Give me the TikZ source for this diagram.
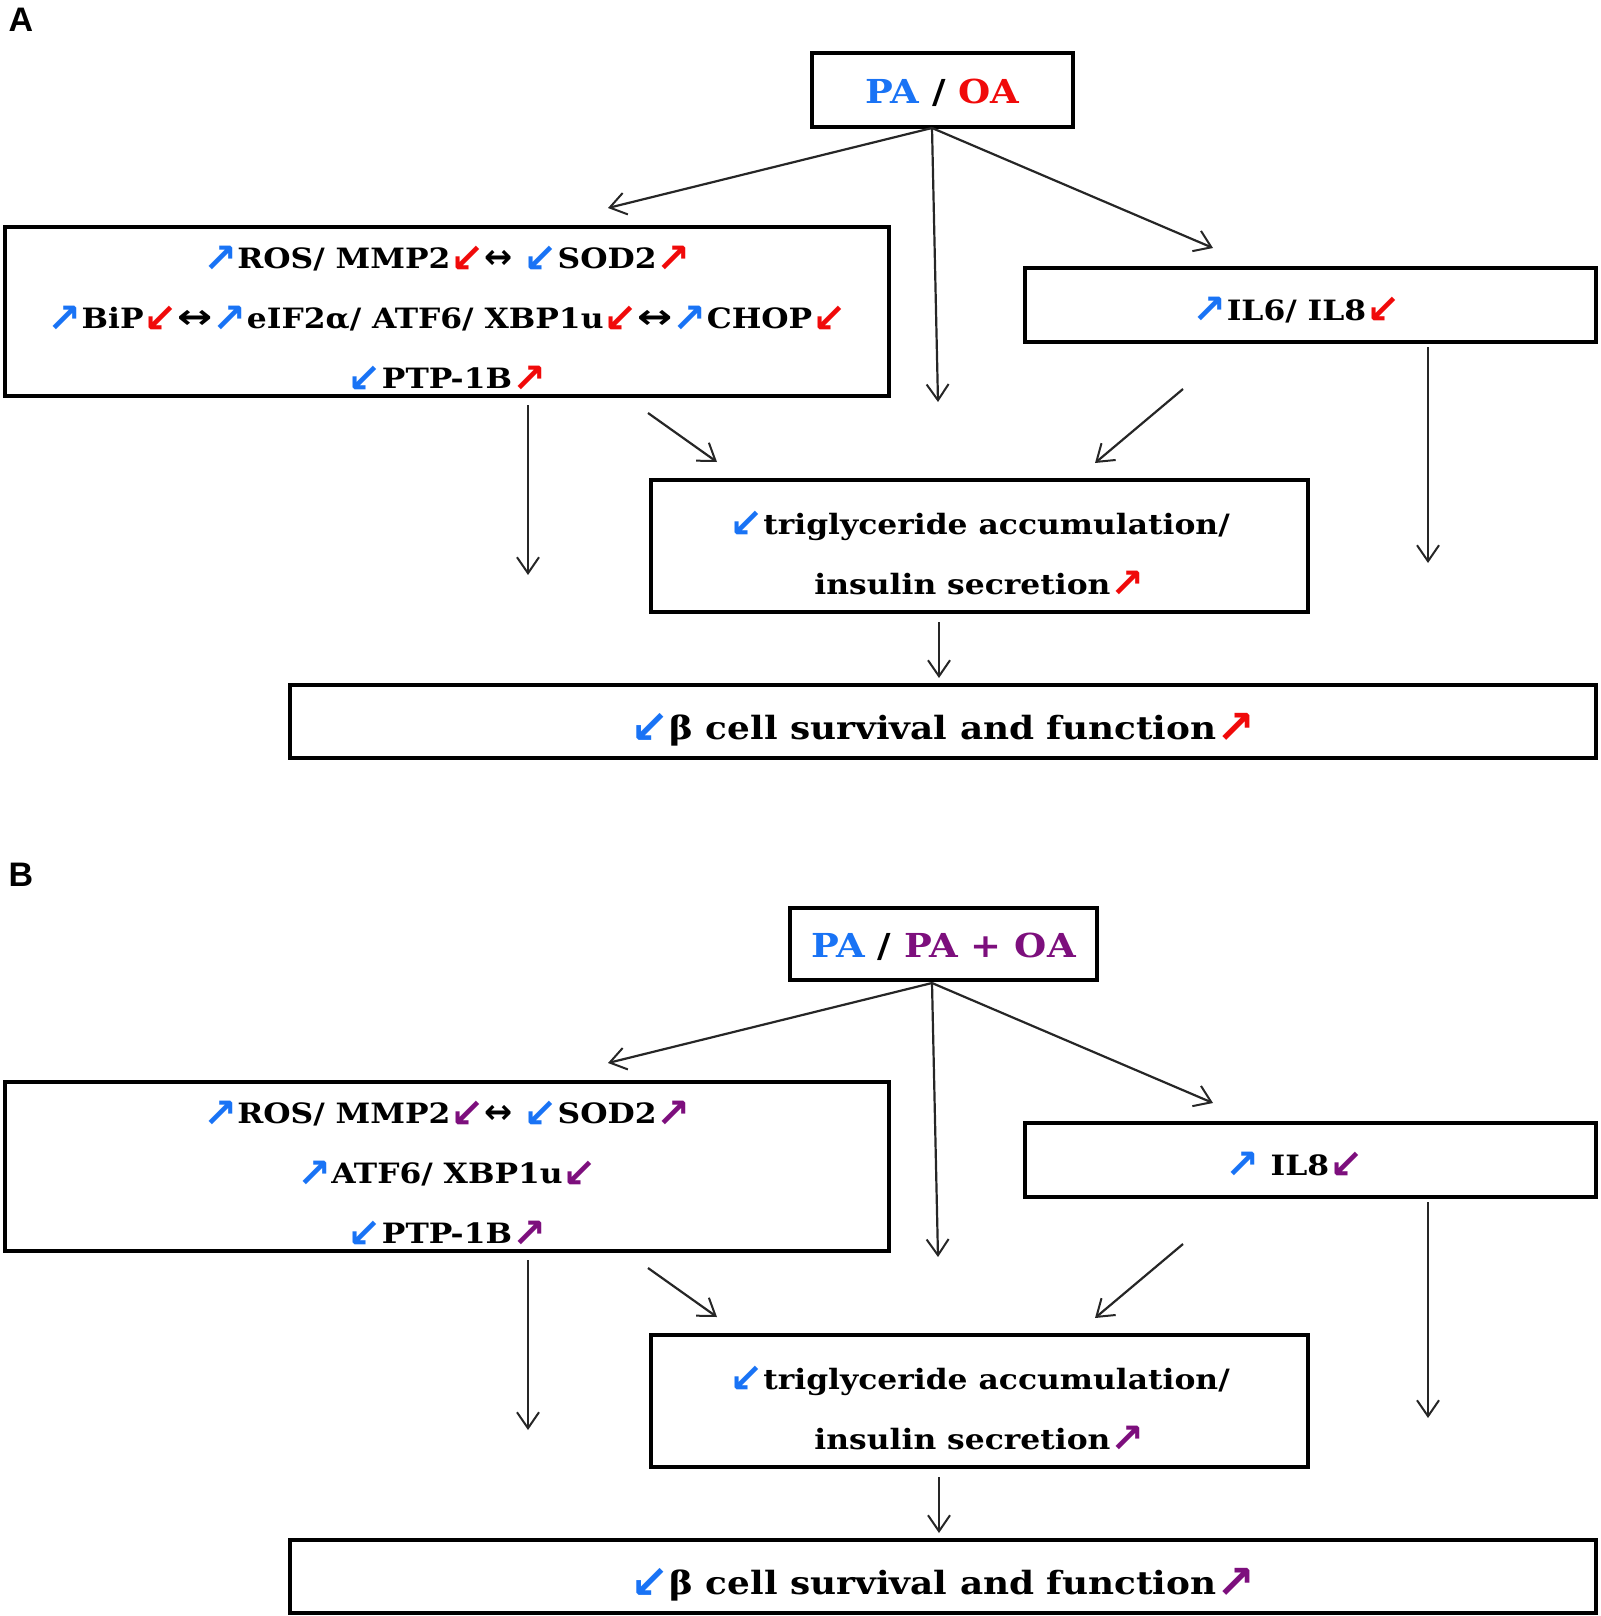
\documentclass[tikz,border=0pt]{standalone}
\usepackage{fontspec}
\setmainfont{DejaVu Serif}[FakeStretch=1.12]
\newfontfamily\arrfont{DejaVu Sans}
\newfontfamily\labfont{Liberation Sans}
\usetikzlibrary{arrows.meta}
\definecolor{pblue}{RGB}{25,115,245}
\definecolor{pred}{RGB}{240,10,10}
\definecolor{ppur}{RGB}{125,15,125}
\newcommand{\myup}[1]{{\color{#1}\arrfont\bfseries\raisebox{-0.12em}{\scalebox{1.45}{↗}}}}
\newcommand{\mydn}[1]{{\color{#1}\arrfont\bfseries\raisebox{-0.12em}{\scalebox{1.45}{↙}}}}
\newcommand{\mylr}{{\arrfont\scalebox{1.2}{↔}}}
\newcommand{\mylrr}{{\arrfont\scalebox{1.5}[1.2]{↔}}}
\newcommand{\mystrut}[1]{\rule{0pt}{#1}}
\begin{document}
\begin{tikzpicture}[x=0.5pt,y=-0.5pt,
  box/.style={draw, line width=2pt, inner sep=0pt, align=center},
  txt/.style={font=\fontsize{14}{30}\selectfont\bfseries},
  big/.style={font=\fontsize{16.5}{30}\selectfont\bfseries},
  bot/.style={font=\fontsize{16}{30}\selectfont\bfseries},
  conn/.style={-{Straight Barb[length=8pt,width=11pt,line width=1pt]}, line width=1.1pt, draw=black!85},
  lab/.style={font=\labfont\bfseries\fontsize{17}{17}\selectfont, inner sep=0pt}]
\useasboundingbox (0,0) rectangle (1600,1616);
% ---------------- panel A
\node[lab] (la) at (21,20) {A};
\node[box,big, minimum width=130.5pt, minimum height=37pt] (atop) at (942.5,90)
  {\mystrut{15.5pt}{\color{pblue}PA} / {\color{pred}OA}};
\node[box,txt, minimum width=442pt, minimum height=84.5pt] (abig) at (447,311.5)
  {\mystrut{19pt}\myup{pblue}ROS/ MMP2\mydn{pred}\mylr{} \mydn{pblue}SOD2\myup{pred}\\
   \myup{pblue}BiP\mydn{pred}\mylrr\myup{pblue}eIF2α/ ATF6/ XBP1u\mydn{pred}\mylrr\myup{pblue}CHOP\mydn{pred}\\
   \mydn{pblue}PTP-1B\myup{pred}};
\node[box,txt, minimum width=285.5pt, minimum height=37pt] (ail) at (1310.5,305)
  {\mystrut{17pt}\myup{pblue}IL6/ IL8\mydn{pred}\hspace*{14pt}};
\node[box,txt, minimum width=328.5pt, minimum height=66pt] (atg) at (979.5,545.5)
  {\mystrut{20.5pt}\mydn{pblue}triglyceride accumulation/\\ insulin secretion\myup{pred}};
\node[box,bot, minimum width=653pt, minimum height=36.5pt] (abot) at (943,721.5)
  {\mystrut{21pt}\mydn{pblue}β cell survival and function\myup{pred}};
\coordinate (af) at (932,128);
\coordinate (a1) at (608,208);
\coordinate (a2) at (938,402);
\coordinate (a3) at (1213,248);
\coordinate (a4s) at (528,405); \coordinate (a4e) at (528,575);
\coordinate (a5s) at (648,413); \coordinate (a5e) at (717,462);
\coordinate (a6s) at (1183,389); \coordinate (a6e) at (1095,463);
\coordinate (a7s) at (1428,347); \coordinate (a7e) at (1428,563);
\coordinate (a8s) at (939,622); \coordinate (a8e) at (939,678);
\draw[conn] (af) -- (a1);
\draw[conn] (af) -- (a2);
\draw[conn] (af) -- (a3);
\draw[conn] (a4s) -- (a4e);
\draw[conn] (a5s) -- (a5e);
\draw[conn] (a6s) -- (a6e);
\draw[conn] (a7s) -- (a7e);
\draw[conn] (a8s) -- (a8e);
% ---------------- panel B
\begin{scope}[yshift=-427.5pt]
\node[lab] (lb) at (21,20) {B};
\node[box,big, minimum width=153.5pt, minimum height=36pt] (btop) at (943.5,89)
  {\mystrut{15.5pt}{\color{pblue}PA} / {\color{ppur}PA + OA}};
\node[box,txt, minimum width=442pt, minimum height=84.5pt] (bbig) at (447,311.5)
  {\mystrut{19pt}\myup{pblue}ROS/ MMP2\mydn{ppur}\mylr{} \mydn{pblue}SOD2\myup{ppur}\\
   \myup{pblue}ATF6/ XBP1u\mydn{ppur}\\
   \mydn{pblue}PTP-1B\myup{ppur}};
\node[box,txt, minimum width=285.5pt, minimum height=37pt] (bil) at (1310.5,305)
  {\mystrut{17pt}\myup{pblue} IL8\mydn{ppur}\hspace*{16pt}};
\node[box,txt, minimum width=328.5pt, minimum height=66pt] (btg) at (979.5,545.5)
  {\mystrut{20.5pt}\mydn{pblue}triglyceride accumulation/\\ insulin secretion\myup{ppur}};
\node[box,bot, minimum width=653pt, minimum height=36.5pt] (bbot) at (943,721.5)
  {\mystrut{21pt}\mydn{pblue}β cell survival and function\myup{ppur}};
\coordinate (bf) at (932,128);
\coordinate (b1) at (608,208);
\coordinate (b2) at (938,402);
\coordinate (b3) at (1213,248);
\coordinate (b4s) at (528,405); \coordinate (b4e) at (528,575);
\coordinate (b5s) at (648,413); \coordinate (b5e) at (717,462);
\coordinate (b6s) at (1183,389); \coordinate (b6e) at (1095,463);
\coordinate (b7s) at (1428,347); \coordinate (b7e) at (1428,563);
\coordinate (b8s) at (939,622); \coordinate (b8e) at (939,678);
\draw[conn] (bf) -- (b1);
\draw[conn] (bf) -- (b2);
\draw[conn] (bf) -- (b3);
\draw[conn] (b4s) -- (b4e);
\draw[conn] (b5s) -- (b5e);
\draw[conn] (b6s) -- (b6e);
\draw[conn] (b7s) -- (b7e);
\draw[conn] (b8s) -- (b8e);
\end{scope}
\end{tikzpicture}
\end{document}
